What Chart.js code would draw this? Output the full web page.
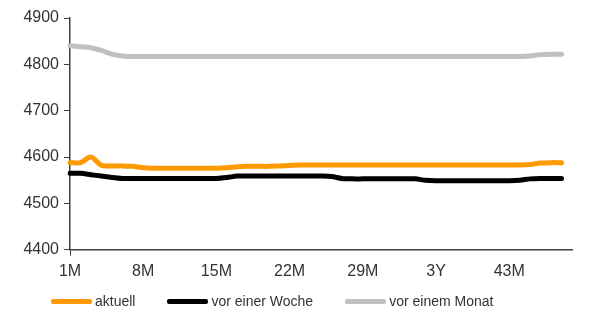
<!DOCTYPE html>
<html>
<head>
<meta charset="utf-8">
<script src="https://cdn.jsdelivr.net/npm/chart.js@4.4.0/dist/chart.umd.min.js"></script>
<style>
  html, body { margin: 0; padding: 0; background: #fff; }
  #wrap { position: relative; width: 590px; height: 316px; }
  #legend {
    position: absolute; left: 51px; top: 293px;
    display: flex; gap: 32px; align-items: center;
    font: 14px 'Liberation Sans', Arial, sans-serif; color: #333;
  }
  #legend .item { display: flex; align-items: center; }
  #legend .swatch { width: 41px; height: 5px; border-radius: 2px; margin-right: 3px; }
</style>
</head>
<body>
<div id="wrap"><canvas id="myChart"></canvas><div id="legend"></div></div>
<script>
// categories: 1M .. 49M (36M shown as 3Y)
const categories = ['1M', '2M', '3M', '4M', '5M', '6M', '7M', '8M', '9M', '10M', '11M', '12M',
    '13M', '14M', '15M', '16M', '17M', '18M', '19M', '20M', '21M', '22M', '23M', '24M',
    '25M', '26M', '27M', '28M', '29M', '30M', '31M', '32M', '33M', '34M', '35M', '3Y',
    '37M', '38M', '39M', '40M', '41M', '42M', '43M', '44M', '45M', '46M', '47M', '48M', '49M'];

const aktuell = [4588, 4588, 4600, 4582, 4581, 4581, 4580, 4577, 4576, 4576, 4576, 4576,
    4576, 4576, 4576, 4577, 4579, 4580, 4580, 4580, 4581, 4582, 4583, 4583,
    4583, 4583, 4583, 4583, 4583, 4583, 4583, 4583, 4583, 4583, 4583, 4583,
    4583, 4583, 4583, 4583, 4583, 4583, 4583, 4583, 4584, 4587, 4588, 4588];

const vorEinerWoche = [4565, 4565, 4562, 4559, 4556, 4554, 4554, 4554, 4554, 4554, 4554, 4554,
    4554, 4554, 4554, 4556, 4559, 4559, 4559, 4559, 4559, 4559, 4559, 4559,
    4559, 4558, 4554, 4553, 4553, 4553, 4553, 4553, 4553, 4553, 4550, 4549,
    4549, 4549, 4549, 4549, 4549, 4549, 4549, 4550, 4553, 4554, 4554, 4554];

const vorEinemMonat = [4840, 4838, 4836, 4830, 4822, 4818, 4817, 4817, 4817, 4817, 4817, 4817,
    4817, 4817, 4817, 4817, 4817, 4817, 4817, 4817, 4817, 4817, 4817, 4817,
    4817, 4817, 4817, 4817, 4817, 4817, 4817, 4817, 4817, 4817, 4817, 4817,
    4817, 4817, 4817, 4817, 4817, 4817, 4817, 4817, 4818, 4821, 4822, 4822];

const yTicks = [4400, 4500, 4600, 4700, 4800, 4900];

const axisColor = '#404040';
const textColor = '#333333';
const fontFamily = 'Liberation Sans, Arial, sans-serif';

function lineSet(label, data, color) {
    return {
        label: label,
        data: data,
        borderColor: color,
        backgroundColor: color,
        borderWidth: 5,
        pointRadius: 0,
        borderCapStyle: 'round',
        borderJoinStyle: 'round',
        tension: 0.3,
        fill: false
    };
}

const data = {
    labels: categories,
    datasets: [
        lineSet('aktuell', aktuell, '#FF9900'),
        lineSet('vor einer Woche', vorEinerWoche, '#000000'),
        lineSet('vor einem Monat', vorEinemMonat, '#C0C0C0')
    ]
};

const scales = {
    x: {
        type: 'category',
        offset: false,
        grid: {
            drawOnChartArea: false,
            tickLength: 6,
            color: function (c) {
                return c.index % 7 === 0 ? axisColor : 'transparent';
            }
        },
        border: { display: true, color: axisColor, width: 1.5 },
        ticks: {
            autoSkip: false,
            maxRotation: 0,
            padding: 6,
            color: textColor,
            font: { family: fontFamily, size: 16 },
            callback: function (value, index) {
                return index % 7 === 0 ? categories[index] : null;
            }
        }
    },
    y: {
        min: 4400,
        max: 4900,
        afterBuildTicks: function (axis) {
            axis.ticks = yTicks.map(v => ({ value: v }));
        },
        afterFit: function (axis) {
            axis.width = 70;
        },
        grid: {
            drawOnChartArea: false,
            tickLength: 6,
            color: axisColor
        },
        border: { display: true, color: axisColor, width: 1.5 },
        ticks: {
            padding: 5,
            color: textColor,
            font: { family: fontFamily, size: 16 },
            callback: function (value) {
                return String(value);
            }
        }
    }
};

const config = {
    type: 'line',
    data,
    options: {
        responsive: true,
        maintainAspectRatio: false,
        animation: false,
        layout: {
            padding: { top: 18, right: 18, bottom: 29, left: 0 }
        },
        scales: scales,
        plugins: {
            legend: { display: false },
            tooltip: { enabled: false }
        }
    }
};

const chart = new Chart(document.getElementById('myChart'), config);

// html legend built from the datasets
const legendEl = document.getElementById('legend');
chart.data.datasets.forEach(ds => {
    const item = document.createElement('div');
    item.className = 'item';
    const sw = document.createElement('span');
    sw.className = 'swatch';
    sw.style.background = ds.borderColor;
    const txt = document.createElement('span');
    txt.textContent = ds.label;
    item.appendChild(sw);
    item.appendChild(txt);
    legendEl.appendChild(item);
});
</script>
</body>
</html>
